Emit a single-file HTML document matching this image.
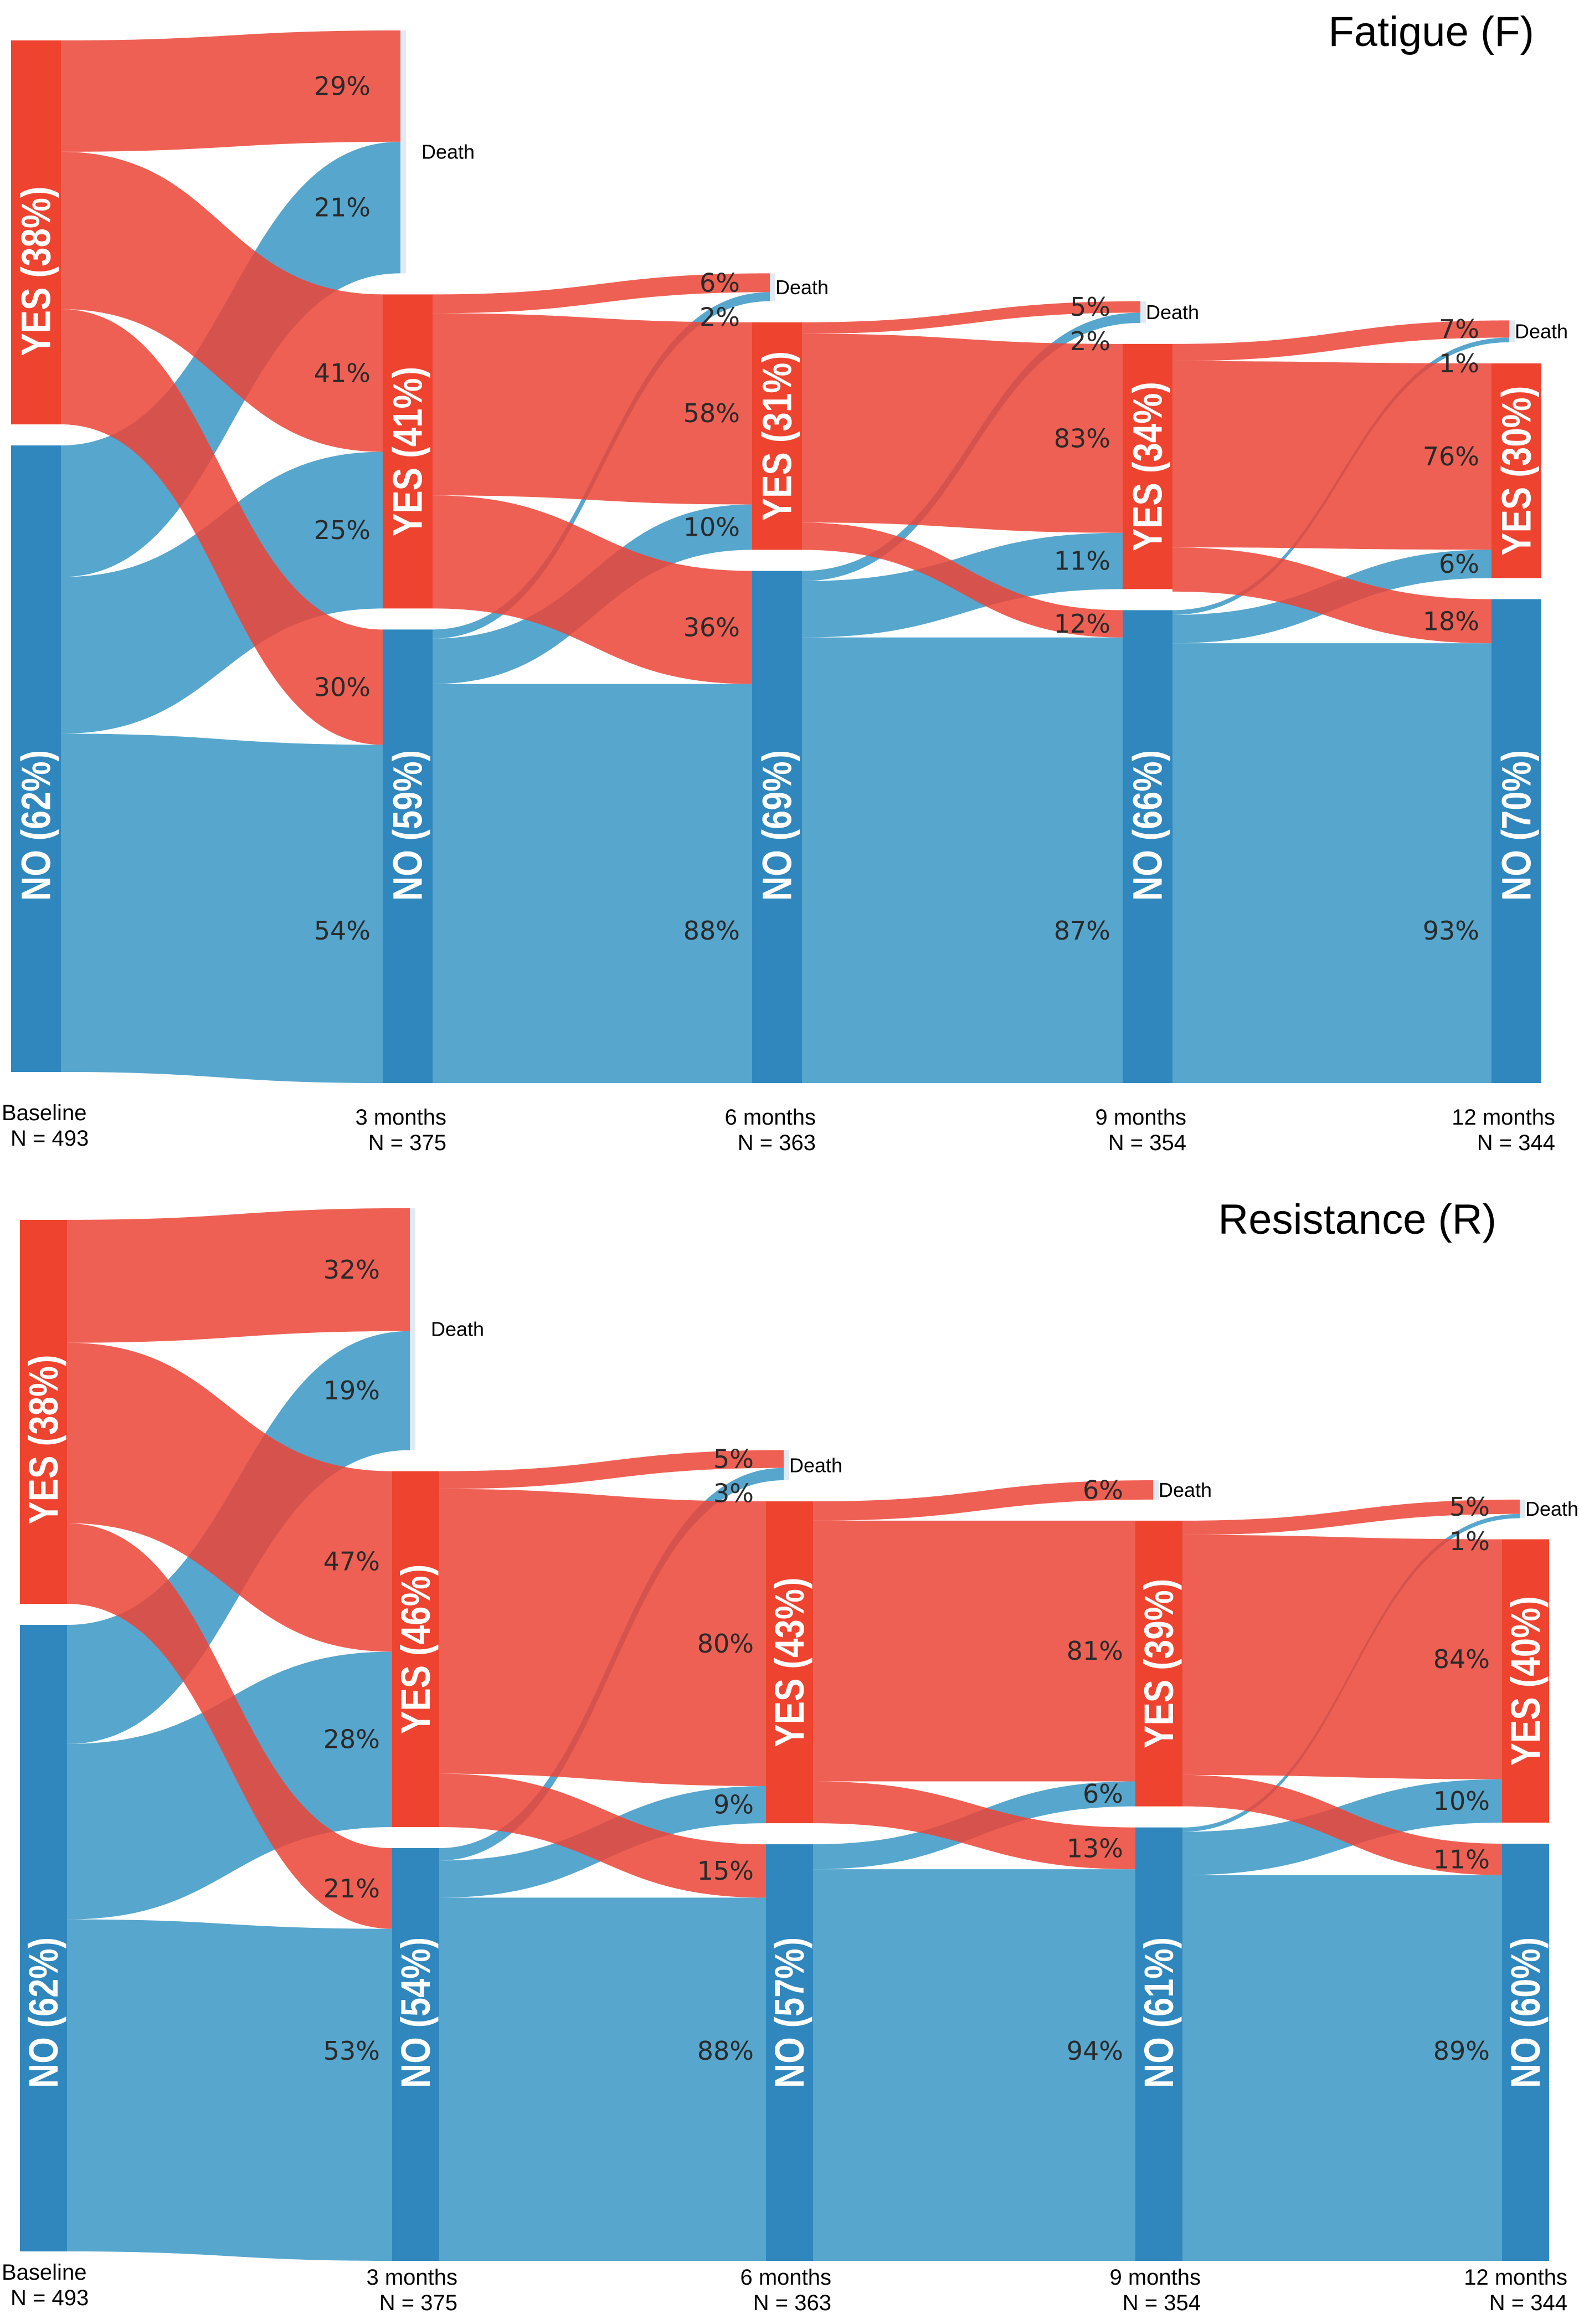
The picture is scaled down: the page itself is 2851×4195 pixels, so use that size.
<!DOCTYPE html>
<html><head><meta charset="utf-8"><title>Fatigue and Resistance Sankey</title>
<style>
html,body{margin:0;padding:0;background:#fff;}
svg{display:block;}
.pct{font-family:"DejaVu Sans","Liberation Sans",sans-serif;font-size:46px;fill:#2a2a2a;}
.nodelab{font-family:"Liberation Sans Narrow","Liberation Sans",sans-serif;font-weight:bold;font-size:74px;fill:#fff;}
.time{font-family:"Liberation Sans",sans-serif;font-size:40px;fill:#000;}
.death{font-family:"Liberation Sans",sans-serif;font-size:36px;fill:#000;}
.title{font-family:"Liberation Sans",sans-serif;font-size:76px;fill:#000;}
</style></head>
<body>
<svg id="chart" width="2851" height="4195" viewBox="0 0 2851 4195" xmlns="http://www.w3.org/2000/svg">
<text class="title" x="2770" y="83" text-anchor="end">Fatigue (F)</text>
<text class="title" x="2702" y="2227" text-anchor="end">Resistance (R)</text>
</svg>
<script>
// ---------- Fatigue data ----------
const F_N = [493, 375, 363, 354, 344];
const F_basePct = [38, 62];
const F_times = ["Baseline", "3 months", "6 months", "9 months", "12 months"];
const F_yesLabels = ["YES (38%)", "YES (41%)", "YES (31%)", "YES (34%)", "YES (30%)"];
const F_noLabels = ["NO (62%)", "NO (59%)", "NO (69%)", "NO (66%)", "NO (70%)"];
const F_fromYes = [[29, 41, 30], [6, 58, 36], [5, 83, 12], [7, 76, 18]];
const F_fromNo = [[21, 25, 54], [2, 10, 88], [2, 11, 87], [1, 6, 93]];
// ---------- Resistance data ----------
const R_N = [493, 375, 363, 354, 344];
const R_basePct = [38, 62];
const R_times = ["Baseline", "3 months", "6 months", "9 months", "12 months"];
const R_yesLabels = ["YES (38%)", "YES (46%)", "YES (43%)", "YES (39%)", "YES (40%)"];
const R_noLabels = ["NO (62%)", "NO (54%)", "NO (57%)", "NO (61%)", "NO (60%)"];
const R_fromYes = [[32, 47, 21], [5, 80, 15], [6, 81, 13], [5, 84, 11]];
const R_fromNo = [[19, 28, 53], [3, 9, 88], [0, 6, 94], [1, 10, 89]];

const svg = document.getElementById('chart');
const NS = 'http://www.w3.org/2000/svg';
function mk(tag, attrs, parent) {
  const e = document.createElementNS(NS, tag);
  for (const k in attrs) e.setAttribute(k, attrs[k]);
  (parent || svg).appendChild(e);
  return e;
}
const RED_FLOW = 'rgb(236,68,54)', BLUE_FLOW = 'rgb(57,151,196)';
const YES_NODE = '#EE432F', NO_NODE = '#2F87BD';

function linkPath(x0, y0, x1, y1, h) {
  const xm = (x0 + x1) / 2;
  return `M${x0},${y0} C${xm},${y0} ${xm},${y1} ${x1},${y1} L${x1},${y1 + h} C${xm},${y1 + h} ${xm},${y0 + h} ${x0},${y0 + h} Z`;
}

function drawChart(cfg) {
  const g = mk('g', {});
  
  
  const k = cfg.k, gap = cfg.gap, w = cfg.w;
  let yesC = cfg.N[0] * cfg.basePct[0] / 100;
  let noC = cfg.N[0] * cfg.basePct[1] / 100;
  let noTop = cfg.bottoms[0] - noC * k;
  let yesTop = noTop - gap - yesC * k;
  const linkG = mk('g', {}, g);
  
  
  const nodeG = mk('g', {}, g);
  
  
  const labG = mk('g', {}, g);
  
  

  function drawNode(i, top, cnt, isYes) {
    const r = mk('rect', {x: cfg.lefts[i], y: top, width: w, height: cnt * k, fill: isYes ? YES_NODE : NO_NODE}, nodeG);
    
    
    const cx = cfg.lefts[i] + w / 2;
    let cy = isYes ? top + cnt * k / 2 + (i === 0 ? cfg.baseYesOff : 0) : cfg.noLabelY;
    const label = isYes ? cfg.yesLabels[i] : cfg.noLabels[i];
    const t = mk('text', {class: 'nodelab', x: cx, y: cy, 'text-anchor': 'middle', 'dominant-baseline': 'central',
      textLength: 34 * label.length, lengthAdjust: 'spacingAndGlyphs', transform: `rotate(-90 ${cx} ${cy})`}, labG);
    t.textContent = label;
    
    
  }
  function timeLabel(i) {
    const x = i === 0 ? 3 : cfg.lefts[i] + cfg.timeOff;
    const anchor = i === 0 ? 'start' : 'end';
    const y = i === 0 ? cfg.timeY0 : cfg.timeY;
    const t1 = mk('text', {class: 'time', x: x, y: y, 'text-anchor': anchor}, labG);
    t1.textContent = cfg.times[i];
    
    
    const t2 = mk('text', {class: 'time', x: i === 0 ? x + 16 : x, y: y + 46, 'text-anchor': anchor}, labG);
    t2.textContent = 'N = ' + cfg.N[i];
    
    
  }
  drawNode(0, yesTop, yesC, true);
  drawNode(0, noTop, noC, false);
  timeLabel(0);

  for (let i = 0; i < 4; i++) {
    const fy = cfg.fromYes[i].map(p => yesC * p / 100);
    const fn = cfg.fromNo[i].map(p => noC * p / 100);
    const nYes = fy[1] + fn[1], nNo = fy[2] + fn[2], nDeath = fy[0] + fn[0];
    const nNoTop = cfg.bottoms[i + 1] - nNo * k;
    const nYesTop = nNoTop - gap - nYes * k;
    const deathTop = nYesTop - gap - nDeath * k;
    const sx = cfg.lefts[i] + w;
    const tx = cfg.lefts[i + 1];
    const dx = tx + 32;
    const sY = [yesTop, yesTop + fy[0] * k, yesTop + (fy[0] + fy[1]) * k];
    const sN = [noTop, noTop + fn[0] * k, noTop + (fn[0] + fn[1]) * k];
    const tD = [deathTop, deathTop + fy[0] * k];
    const tY = [nYesTop, nYesTop + fy[1] * k];
    const tN = [nNoTop, nNoTop + fy[2] * k];
    const targetsX = [dx, tx, tx];
    const tYes = [tD[0], tY[0], tN[0]];
    const tNo = [tD[1], tY[1], tN[1]];
    const kinds = ['death', 'yes', 'no'];
    for (let j = 0; j < 3; j++) {
      if (fn[j] <= 0) continue;
      const p = mk('path', {d: linkPath(sx, sN[j], targetsX[j], tNo[j], fn[j] * k), fill: BLUE_FLOW, 'fill-opacity': 0.85}, linkG);
      
      
    }
    for (let j = 0; j < 3; j++) {
      if (fy[j] <= 0) continue;
      const p = mk('path', {d: linkPath(sx, sY[j], targetsX[j], tYes[j], fy[j] * k), fill: RED_FLOW, 'fill-opacity': 0.85}, linkG);
      
      
    }
    const lx = tx - 22;
    let redDY = null;
    for (let j = 0; j < 3; j++) {
      const pairs = [[fy[j], tYes[j], cfg.fromYes[i][j], 'yes'], [fn[j], tNo[j], cfg.fromNo[i][j], 'no']];
      for (const [c, top, pct, src] of pairs) {
        if (pct <= 0) continue;
        let cy = top + c * k / 2;
        if (j === 0) {
          if (src === 'yes') redDY = cy;
          else if (redDY !== null && cy < redDY + 62) cy = redDY + 62;
        }
        if (j === 2 && src === 'no') cy = cfg.bigLabelY;
        const t = mk('text', {class: 'pct', x: lx, y: cy, 'text-anchor': 'end', 'dominant-baseline': 'central'}, labG);
        t.textContent = pct + '%';
        
        
      }
    }
    const dn = mk('rect', {x: dx, y: deathTop, width: 10, height: nDeath * k, fill: '#dfeaf2'}, nodeG);
    
    
    const dt = mk('text', {class: 'death', x: dx + (i === 0 ? 38 : 10), y: deathTop + nDeath * k / 2, 'dominant-baseline': 'central'}, labG);
    dt.textContent = 'Death';
    
    
    drawNode(i + 1, nYesTop, nYes, true);
    drawNode(i + 1, nNoTop, nNo, false);
    timeLabel(i + 1);
    yesC = nYes; noC = nNo; yesTop = nYesTop; noTop = nNoTop;
  }
}

drawChart({name: 'fatigue-sankey', N: F_N, basePct: F_basePct, times: F_times, yesLabels: F_yesLabels, noLabels: F_noLabels,
  fromYes: F_fromYes, fromNo: F_fromNo, k: 3.70, gap: 38, w: 90,
  lefts: [20, 691, 1358, 2027, 2693], bottoms: [1935, 1955, 1955, 1955, 1955],
  noLabelY: 1490, bigLabelY: 1680, baseYesOff: 70, timeOff: 115, timeY0: 2022, timeY: 2030});
drawChart({name: 'resistance-sankey', N: R_N, basePct: R_basePct, times: R_times, yesLabels: R_yesLabels, noLabels: R_noLabels,
  fromYes: R_fromYes, fromNo: R_fromNo, k: 3.70, gap: 38, w: 85,
  lefts: [36, 708, 1383, 2050, 2712], bottoms: [4064, 4081, 4081, 4081, 4081],
  noLabelY: 3633, bigLabelY: 3702, baseYesOff: 50, timeOff: 118, timeY0: 4115, timeY: 4124});
</script>
</body></html>
